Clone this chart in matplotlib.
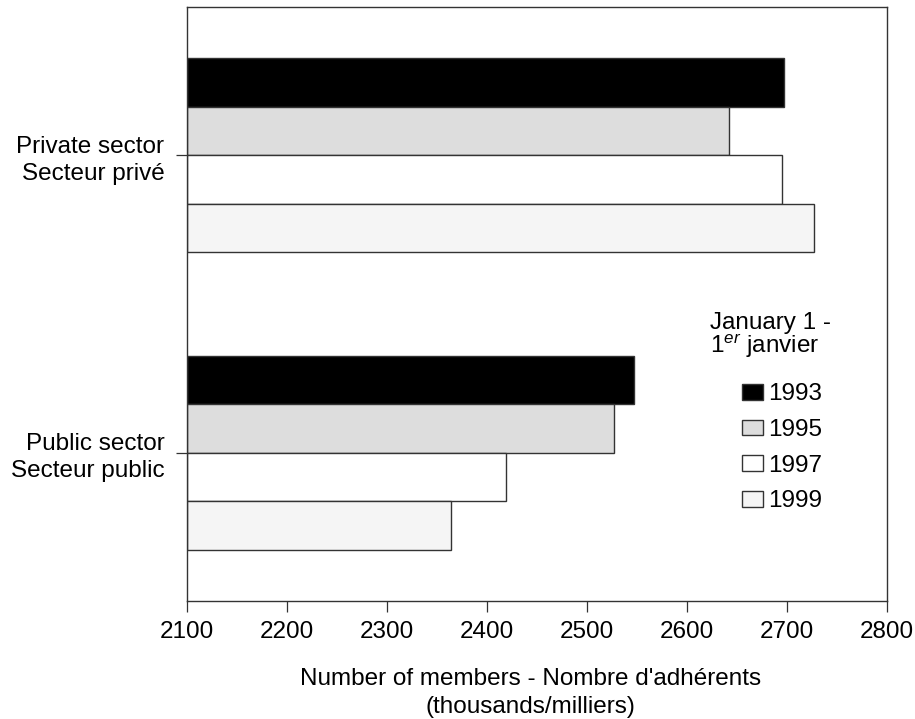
import matplotlib
matplotlib.use("Agg")
import matplotlib.pyplot as plt
import numpy as np

plt.rcParams['font.family'] = ['Liberation Sans', 'DejaVu Sans']
plt.rcParams['mathtext.fontset'] = 'custom'
plt.rcParams['mathtext.rm'] = 'Liberation Sans'
plt.rcParams['mathtext.it'] = 'Liberation Sans:italic'

# Data
categories = ["Private sector\nSecteur privé", "Public sector\nSecteur public"]
years = ["1993", "1995", "1997", "1999"]
values = {
    "1993": [2697, 2547],
    "1995": [2642, 2527],
    "1997": [2695, 2419],
    "1999": [2727, 2364],
}
colors = ["#000000", "#dddddd", "#ffffff", "#f5f5f5"]
xticks = [2100, 2200, 2300, 2400, 2500, 2600, 2700, 2800]

FS = 17.5
W, H = 915, 719
fig = plt.figure(figsize=(W / 100, H / 100), dpi=100)
ax = fig.add_axes([186.7 / W, 1 - 601.3 / H, 700 / W, 594.6 / H])

h = 0.163
ypos = np.arange(len(categories))
offsets = [-1.5, -0.5, 0.5, 1.5]
handles = []
for yr, off, c in zip(years, offsets, colors):
    vals = np.array(values[yr])
    b = ax.barh(ypos + off * h, vals - 2100, left=2100, height=h,
                color=c, edgecolor="#333333", linewidth=1.0, label=yr)
    handles.append(b)

ax.set_xlim(2100, 2800)
ax.set_ylim(1.5, -0.5)
ax.set_xticks(xticks)
ax.set_xticklabels([str(t) for t in xticks], fontsize=FS)
ax.set_yticks(ypos)
ax.set_yticklabels(categories, fontsize=FS, multialignment='right',
                   linespacing=1.3)
ax.tick_params(axis='x', direction='out', length=8, width=0.9, pad=6.5,
               colors='#333333', labelcolor='black')
ax.tick_params(axis='y', direction='out', length=8, width=0.9, pad=8,
               colors='#333333', labelcolor='black')
for s in ax.spines.values():
    s.set_color('#333333')
    s.set_linewidth(1.0)

ax.set_xlabel("Number of members - Nombre d'adhérents\n(thousands/milliers)",
              fontsize=FS, linespacing=1.35)
ax.xaxis.set_label_coords(0.491, -0.113)

# Legend title
ax.text(0.7476, 0.458, "January 1 -", transform=ax.transAxes, fontsize=FS,
        ha='left', va='baseline')
ax.text(0.7476, 0.418, "1$^{er}$ janvier", transform=ax.transAxes, fontsize=FS,
        ha='left', va='baseline')

leg = ax.legend(handles=handles, labels=years, loc='center left',
                bbox_to_anchor=(0.7937, 0.258), frameon=False, fontsize=FS,
                borderpad=0, borderaxespad=0, handlelength=0.86,
                handleheight=0.62, handletextpad=0.2, labelspacing=0.56)

fig.savefig("out.png", dpi=100)
